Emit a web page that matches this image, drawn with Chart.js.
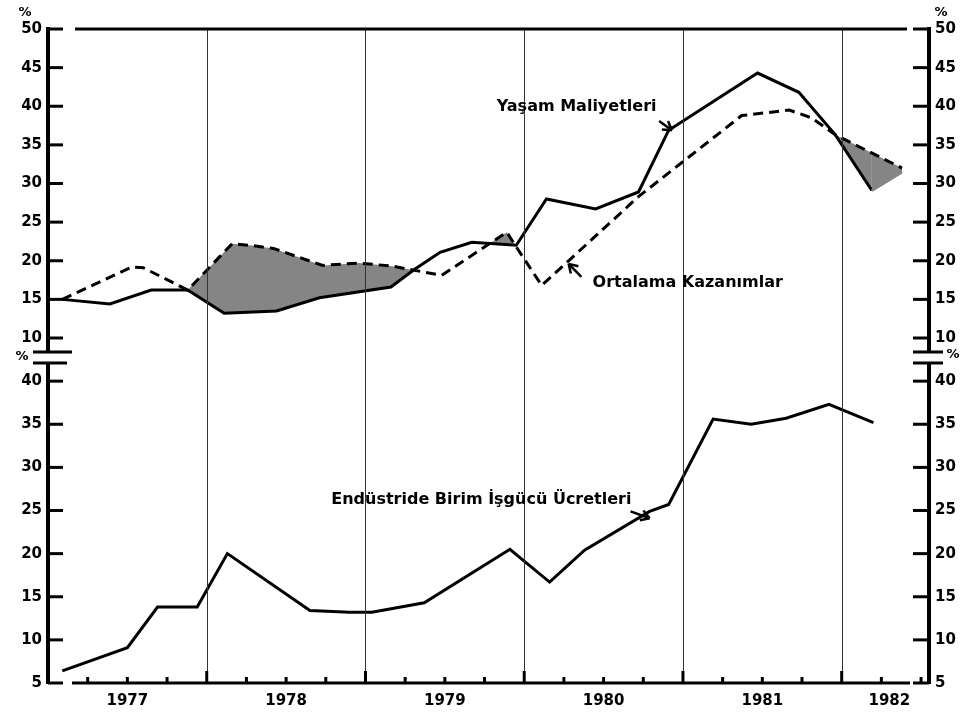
<!DOCTYPE html>
<html>
<head>
<meta charset="utf-8">
<script src="https://cdn.jsdelivr.net/npm/chart.js@4.4.0/dist/chart.umd.min.js"></script>
<style>
  html, body { margin: 0; padding: 0; background: #fff; }
  canvas { display: block; }
</style>
</head>
<body>
<canvas id="grafico" width="968" height="713"></canvas>
<script>
// yıl (ondalıklı) ve yüzde değerleri
const yasamX = [1977.09, 1977.39, 1977.65, 1977.88, 1978.11, 1978.44, 1978.71, 1979.16, 1979.31, 1979.47, 1979.67, 1979.95, 1980.14, 1980.45, 1980.72, 1980.91, 1981.47, 1981.73, 1981.96, 1982.19, 1982.38];
const yasamY = [15.0, 14.4, 16.2, 16.2, 13.2, 13.5, 15.2, 16.6, 18.9, 21.1, 22.4, 22.0, 28.0, 26.7, 28.9, 36.9, 44.3, 41.8, 36.3, 29.1, 31.5];

const kazancX = [1977.09, 1977.53, 1977.60, 1977.88, 1978.16, 1978.27, 1978.42, 1978.63, 1978.73, 1978.96, 1979.17, 1979.48, 1979.89, 1979.95, 1980.11, 1980.72, 1981.37, 1981.67, 1981.81, 1981.96, 1982.38];
const kazancY = [15.0, 19.2, 19.1, 16.2, 22.2, 22.0, 21.6, 20.1, 19.4, 19.7, 19.3, 18.1, 23.7, 21.8, 16.8, 28.3, 38.8, 39.5, 38.5, 36.3, 32.0];

const iscilikX = [1977.09, 1977.50, 1977.69, 1977.94, 1978.13, 1978.65, 1978.90, 1979.04, 1979.37, 1979.91, 1980.16, 1980.38, 1980.79, 1980.91, 1981.19, 1981.43, 1981.65, 1981.92, 1982.20];
const iscilikY = [6.4, 9.1, 13.8, 13.8, 20.0, 13.4, 13.2, 13.2, 14.3, 20.5, 16.7, 20.4, 24.9, 25.7, 35.6, 35.0, 35.7, 37.3, 35.2];

const yillar = ['1977', '1978', '1979', '1980', '1981', '1982'];

// gölgeleme 1977 sonundan itibaren başlıyor
const golgeBaslangic = 1977.88;

const notlar = [
    { metin: 'Yaşam Maliyetleri', x: 1980.33, y: 39.9, eksen: 'yTop', ok: [1980.85, 38.1, 1980.93, 36.9] },
    { metin: 'Ortalama Kazanımlar', x: 1981.03, y: 17.1, eksen: 'yTop', ok: [1980.36, 17.9, 1980.28, 19.6] },
    { metin: 'Endüstride Birim İşgücü Ücretleri', x: 1979.73, y: 26.2, eksen: 'yBot', ok: [1980.67, 24.9, 1980.79, 24.1] }
];

const gri = '#858585';
const yaziTipi = { family: 'DejaVu Sans', size: 15, weight: 'bold' };

function noktalar(xs, ys) {
    return xs.map((x, i) => ({ x: x, y: ys[i] }));
}

const golgeX = kazancX.filter(x => x >= golgeBaslangic);
const golgeY = kazancY.filter((y, i) => kazancX[i] >= golgeBaslangic);

function cizgi(ctx, x1, y1, x2, y2) {
    ctx.beginPath();
    ctx.moveTo(x1, y1);
    ctx.lineTo(x2, y2);
    ctx.stroke();
}

function okCiz(ctx, x1, y1, x2, y2) {
    cizgi(ctx, x1, y1, x2, y2);
    const a = Math.atan2(y2 - y1, x2 - x1);
    for (const d of [-0.55, 0.55]) {
        cizgi(ctx, x2, y2, x2 - 10 * Math.cos(a + d), y2 - 10 * Math.sin(a + d));
    }
}

const suslemeler = {
    id: 'suslemeler',
    afterDatasetsDraw(chart) {
        const { ctx, chartArea: a, scales } = chart;
        ctx.save();
        ctx.strokeStyle = '#333';
        ctx.lineWidth = 1;
        for (let yil = 1978; yil <= 1982; yil++) {
            const px = Math.round(scales.x.getPixelForValue(yil)) + 0.5;
            cizgi(ctx, px, a.top, px, a.bottom);
        }
        ctx.restore();
    },
    afterDraw(chart) {
        const { ctx, chartArea: a, scales } = chart;
        ctx.save();
        ctx.strokeStyle = '#000';
        ctx.lineWidth = 3;

        // üst çerçeve ve alt eksen
        cizgi(ctx, a.left + 27, a.top, a.right - 22, a.top);
        cizgi(ctx, a.left + 24, a.bottom, a.right - 19, a.bottom);

        // çeyrek yıl işaretleri
        for (let i = 1; i <= 22; i++) {
            const px = scales.x.getPixelForValue(1977 + i / 4);
            cizgi(ctx, px, a.bottom, px, a.bottom - (i % 4 === 0 ? 12 : 6));
        }

        // y ekseni işaretleri (içe dönük)
        for (const id of ['yTop', 'yBot']) {
            const s = scales[id];
            s.ticks.forEach(t => {
                const py = s.getPixelForValue(t.value);
                cizgi(ctx, a.left, py, a.left + 15, py);
                cizgi(ctx, a.right, py, a.right - 16, py);
            });
        }

        // eksen kırılması
        const b = scales.yTop.bottom;
        ctx.fillStyle = '#fff';
        ctx.fillRect(a.left - 6, b - 4, 12, 9);
        ctx.fillRect(a.right - 6, b - 4, 12, 9);
        cizgi(ctx, a.left - 15, b - 5, a.left + 24, b - 5);
        cizgi(ctx, a.left - 15, b + 6, a.left + 19, b + 6);
        cizgi(ctx, a.right - 16, b - 5, a.right + 14, b - 5);
        cizgi(ctx, a.right - 16, b + 6, a.right + 14, b + 6);

        ctx.fillStyle = '#000';
        ctx.font = 'bold 13px "DejaVu Sans"';
        ctx.textAlign = 'center';
        ctx.textBaseline = 'middle';
        ctx.fillText('%', a.left - 23, a.top - 16);
        ctx.fillText('%', a.right + 12, a.top - 16);
        ctx.fillText('%', a.left - 26, b);
        ctx.fillText('%', a.right + 24, b - 2);

        // açıklamalar
        ctx.font = 'bold 16px "DejaVu Sans"';
        ctx.lineWidth = 2.5;
        notlar.forEach(n => {
            const ys = scales[n.eksen];
            ctx.fillText(n.metin, scales.x.getPixelForValue(n.x), ys.getPixelForValue(n.y));
            okCiz(ctx,
                scales.x.getPixelForValue(n.ok[0]), ys.getPixelForValue(n.ok[1]),
                scales.x.getPixelForValue(n.ok[2]), ys.getPixelForValue(n.ok[3]));
        });
        ctx.restore();
    }
};

function yEkseni(konum, yigin, agirlik, min, max, genislik) {
    return {
        type: 'linear',
        position: konum,
        stack: yigin,
        stackWeight: agirlik,
        min: min,
        max: max,
        grid: { display: false, drawTicks: false },
        border: { display: true, width: 4, color: '#000' },
        ticks: { stepSize: 5, includeBounds: false, padding: 6, color: '#000', font: yaziTipi },
        afterFit: s => { s.width = genislik; }
    };
}

const ctx = document.getElementById('grafico');
new Chart(ctx, {
    type: 'line',
    data: {
        datasets: [{
            label: 'Yaşam Maliyetleri',
            data: noktalar(yasamX, yasamY),
            yAxisID: 'yTop',
            borderColor: '#000',
            borderWidth: 3,
            pointRadius: 0,
            fill: false,
            segment: {
                borderColor: c => c.p1DataIndex === yasamX.length - 1 ? gri : undefined
            }
        }, {
            label: 'Ortalama Kazanımlar',
            data: noktalar(kazancX, kazancY),
            yAxisID: 'yTop',
            borderColor: '#000',
            borderWidth: 3,
            borderDash: [10, 6],
            pointRadius: 0,
            fill: false
        }, {
            label: 'gölge',
            data: noktalar(golgeX, golgeY),
            yAxisID: 'yTop',
            borderColor: 'rgba(0,0,0,0)',
            borderWidth: 0,
            pointRadius: 0,
            fill: { target: 0, above: gri, below: 'rgba(0,0,0,0)' }
        }, {
            label: 'Endüstride Birim İşgücü Ücretleri',
            data: noktalar(iscilikX, iscilikY),
            yAxisID: 'yBot',
            borderColor: '#000',
            borderWidth: 3,
            pointRadius: 0,
            fill: false
        }]
    },
    options: {
        responsive: false,
        devicePixelRatio: 1,
        animation: false,
        layout: { padding: { top: 29, left: 0, right: 0, bottom: 0 } },
        plugins: {
            legend: { display: false },
            tooltip: { enabled: false },
            filler: { drawTime: 'beforeDatasetsDraw' }
        },
        scales: {
            x: {
                type: 'linear',
                min: 1977,
                max: 1982.55,
                grid: { display: false, drawTicks: false },
                border: { display: false },
                afterBuildTicks: s => {
                    s.ticks = yillar.map(y => ({ value: Math.min(Number(y) + 0.5, s.max - 0.25) }));
                },
                ticks: {
                    autoSkip: false,
                    maxRotation: 0,
                    padding: 9,
                    color: '#000',
                    font: yaziTipi,
                    callback: (v, i) => yillar[i]
                },
                afterFit: s => { s.height = 30; }
            },
            yBot: yEkseni('left', 'sol', 326, 5, 42.8, 48),
            yTop: yEkseni('left', 'sol', 328, 7.54, 50, 48),
            yTopR: yEkseni('right', 'sag', 328, 7.54, 50, 39),
            yBotR: yEkseni('right', 'sag', 326, 5, 42.8, 39)
        }
    },
    plugins: [suslemeler]
});
</script>
</body>
</html>
